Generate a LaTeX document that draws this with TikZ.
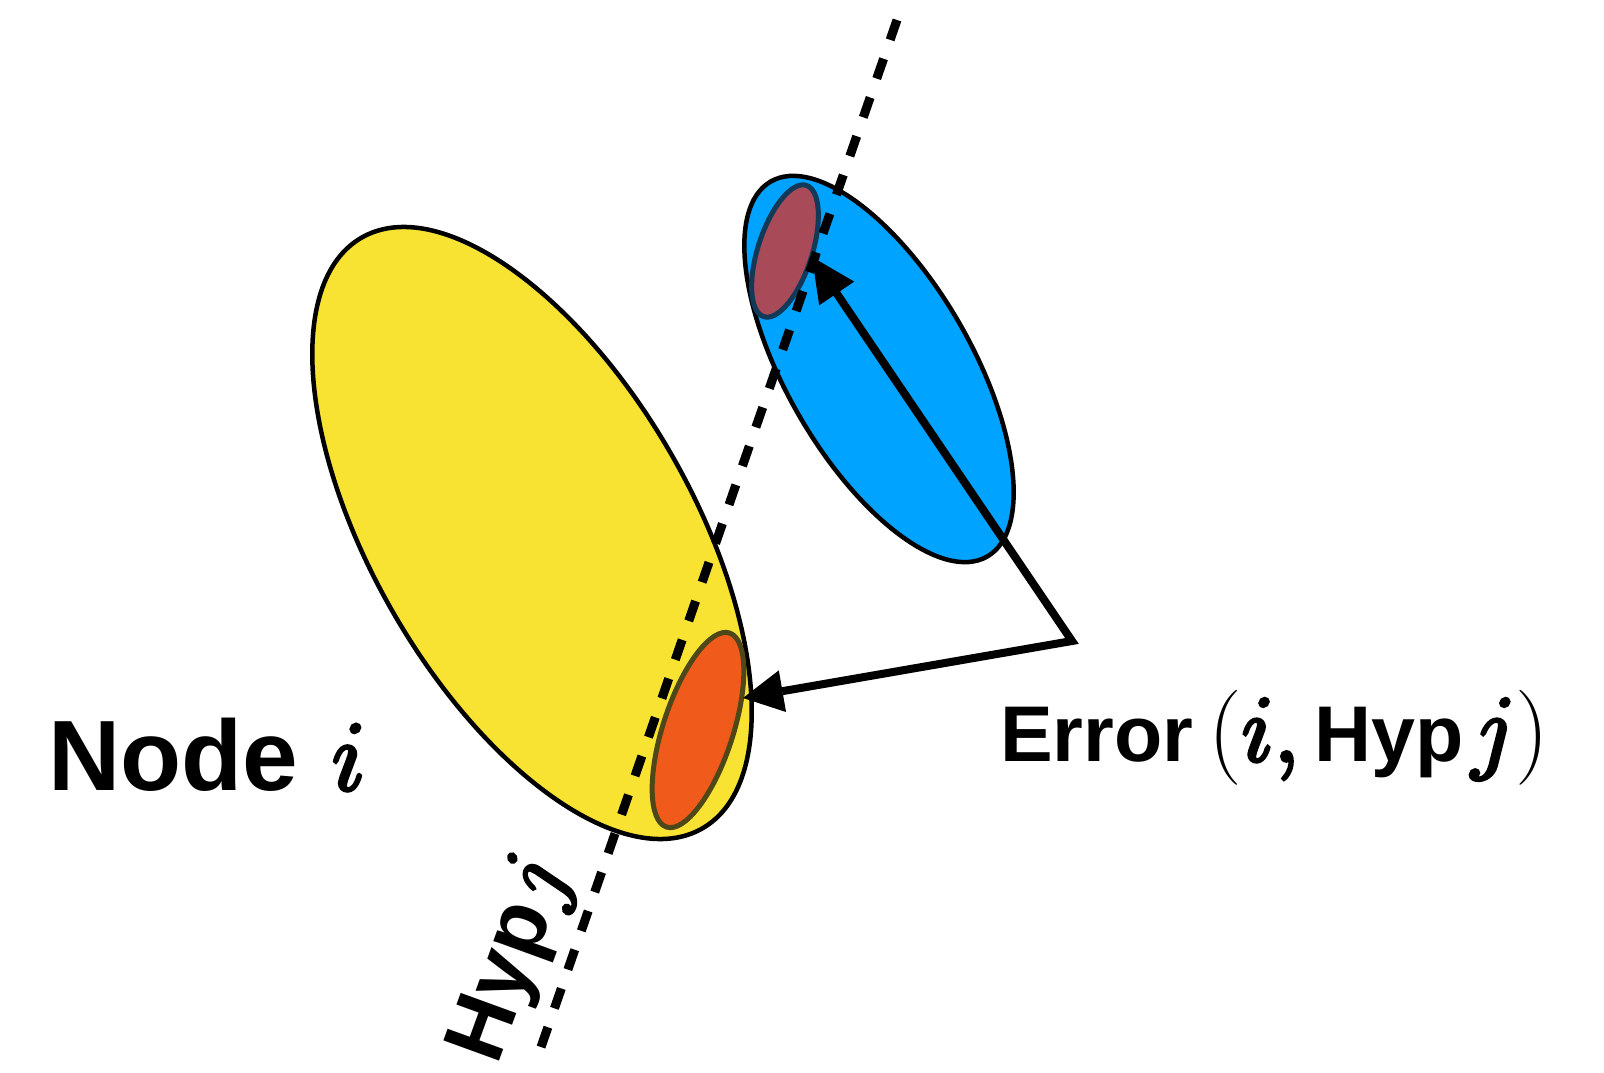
\RequirePackage{fix-cm}
\documentclass[tikz,border=0pt]{standalone}
\usepackage[no-math]{fontspec}
\newfontfamily\hv{Liberation Sans}
\usetikzlibrary{shapes.geometric,arrows.meta}
\definecolor{nodeyellow}{RGB}{248,226,50}
\definecolor{hypblue}{RGB}{0,163,255}
\definecolor{errred}{RGB}{168,74,88}
\definecolor{errorange}{RGB}{240,90,26}
\definecolor{ringblue}{RGB}{18,58,88}
\definecolor{ringolive}{RGB}{78,72,24}
\newcommand\heavy[1]{\special{pdf:code 2 Tr 3.5 w}#1\special{pdf:code 0 Tr}}
\newcommand\bigmath[1]{{\fontsize{95}{95}\selectfont$#1$}}
\tikzset{
  blob/.style={ellipse, draw=black, line width=4.5pt, inner sep=0pt, outer sep=0pt},
  spot/.style={ellipse, inner sep=0pt, outer sep=0pt, line width=5pt},
  hypline/.style={line width=9pt, dash pattern=on 21pt off 20pt},
  errline/.style={line width=8pt, line join=miter},
  lbl/.style={anchor=base west, inner sep=0pt, outer sep=0pt},
}
\begin{document}
\begin{tikzpicture}[x=1pt,y=-1pt]
\useasboundingbox (0,0) rectangle (1604,1073);
\fill[white] (0,0) rectangle (1604,1073);
% ellipses
\node[blob, fill=nodeyellow, minimum width=682pt, minimum height=320pt, rotate=-60] (yel) at (532,533) {};
\node[spot, fill=errorange, draw=ringolive, minimum width=204pt, minimum height=70pt, rotate=72] (ora) at (698,730) {};
\node[blob, fill=hypblue, minimum width=433pt, minimum height=185pt, rotate=-60] (blu) at (879,369) {};
\node[spot, fill=errred, draw=ringblue, minimum width=138pt, minimum height=54pt, rotate=72] (red) at (785,251) {};
% hypothesis line
\coordinate (htop) at (897,20);
\coordinate (hbot) at (540,1050);
\draw[hypline] (htop) -- (hbot);
% error arrows
\coordinate (tipA) at (812,257);
\coordinate (tipB) at (743,698);
\coordinate (corner) at (1072,641);
\draw[errline, {Triangle[length=44pt,width=42pt,line width=1pt]}-{Triangle[length=40pt,width=42pt,line width=1pt]}] (tipA) -- (corner) -- (tipB);
% labels
\node[lbl, font=\hv\bfseries\fontsize{100}{104}\selectfont] (nodelabel) at (48,790) {Node\hspace{34pt}{\fontsize{100}{100}\selectfont$\heavy{i}$}};
\node[lbl, font=\hv\bfseries\fontsize{79}{84}\selectfont] (errlabel) at (1000,761) {Error\hspace{15pt}\bigmath{(\heavy{i,}}\hspace{15pt}Hyp\hspace{8pt}\bigmath{\heavy{j})}};
\node[lbl, rotate=70, font=\hv\bfseries\fontsize{86}{90}\selectfont] (hyplabel) at (497,1066) {Hyp\hspace{6pt}{\fontsize{92}{92}\selectfont$\heavy{j}$}};
\end{tikzpicture}
\end{document}
